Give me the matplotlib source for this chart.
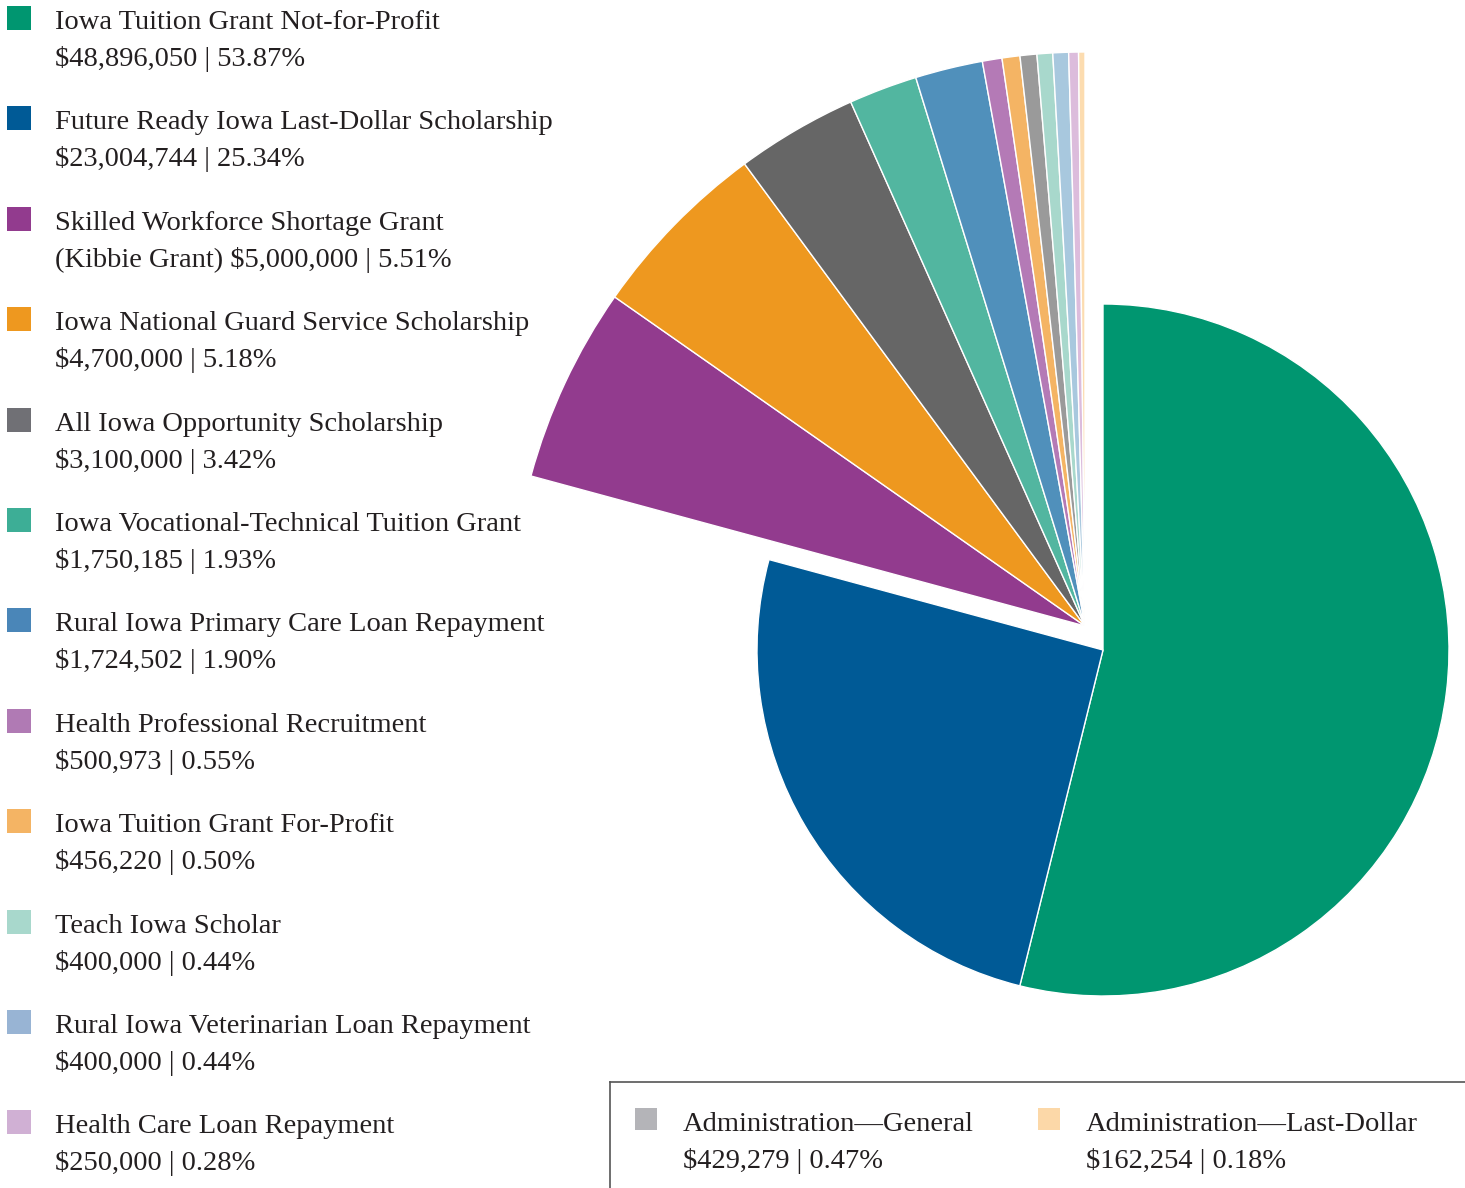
import matplotlib.pyplot as plt
from matplotlib.patches import Rectangle

# slices in pie order (clockwise from 12 o'clock)
names = [
    "Iowa Tuition Grant Not-for-Profit",
    "Future Ready Iowa Last-Dollar Scholarship",
    "Skilled Workforce Shortage Grant\n(Kibbie Grant)",
    "Iowa National Guard Service Scholarship",
    "All Iowa Opportunity Scholarship",
    "Iowa Vocational-Technical Tuition Grant",
    "Rural Iowa Primary Care Loan Repayment",
    "Health Professional Recruitment",
    "Iowa Tuition Grant For-Profit",
    "Administration\u2014General",
    "Teach Iowa Scholar",
    "Rural Iowa Veterinarian Loan Repayment",
    "Health Care Loan Repayment",
    "Administration\u2014Last-Dollar",
]
amounts = [48896050, 23004744, 5000000, 4700000, 3100000, 1750185, 1724502,
           500973, 456220, 429279, 400000, 400000, 250000, 162254]
pcts = [53.87, 25.34, 5.51, 5.18, 3.42, 1.93, 1.90,
        0.55, 0.50, 0.47, 0.44, 0.44, 0.28, 0.18]
colors = ["#009670", "#005A96", "#923B8E", "#EE981F", "#666666", "#52B6A0",
          "#5090BB", "#B47AB6", "#F4B464", "#9A9A9A", "#A8D8CC", "#A8C8DE",
          "#DCBCDC", "#FCDCB0"]
legend_colors = ["#009670", "#005A96", "#923B8E", "#EE981F", "#707075", "#3DAE96",
                 "#4A86B8", "#B07AB4", "#F4B464", "#B4B4B8", "#A8D8CC", "#98B4D4",
                 "#D0B0D4", "#FCD8A8"]

W, H = 1465, 1188
txt_color = "#231F20"
font = "Liberation Serif"
fs = 20.5

fig = plt.figure(figsize=(W / 100, H / 100), dpi=100)
ax = fig.add_axes([0, 0, 1, 1])

wedges, _ = ax.pie(amounts, colors=colors, startangle=90, counterclock=False,
                   radius=574, center=(1085, H - 626),
                   wedgeprops=dict(edgecolor="white", linewidth=1.0))
# the two largest slices sit pulled out with a smaller radius
for w in wedges[:2]:
    w.set_radius(346)
    w.set_center((1103, H - 650))

ax.set_xlim(0, W)
ax.set_ylim(0, H)
ax.set_aspect("auto")
ax.axis("off")


def two_lines(i):
    money = f"${amounts[i]:,} | {pcts[i]:.2f}%"
    if "\n" in names[i]:
        a, b = names[i].split("\n")
        return a, b + " " + money
    return names[i], money


# left legend
row = 0
for i in range(len(names)):
    if names[i].startswith("Administration"):
        continue
    y0 = 29 + row * 100.4
    ax.add_patch(Rectangle((7, H - y0 - 1), 24, 24, color=legend_colors[i], lw=0))
    l1, l2 = two_lines(i)
    ax.text(55, H - y0, l1, fontsize=fs, family=font, color=txt_color, va="baseline")
    ax.text(55, H - y0 - 37, l2, fontsize=fs, family=font, color=txt_color, va="baseline")
    row += 1

# bottom-right box for administration
ax.plot([610, W], [H - 1082, H - 1082], color="#555555", lw=1.2)
ax.plot([610, 610], [H - 1082, 0], color="#555555", lw=1.2)
admin = [i for i in range(len(names)) if names[i].startswith("Administration")]
for k, i in enumerate(admin):
    x0 = 635 + k * 403
    ax.add_patch(Rectangle((x0, H - 1130), 22, 22, color=legend_colors[i], lw=0))
    l1, l2 = two_lines(i)
    ax.text(x0 + 48, H - 1131, l1, fontsize=fs, family=font, color=txt_color, va="baseline")
    ax.text(x0 + 48, H - 1168, l2, fontsize=fs, family=font, color=txt_color, va="baseline")

fig.savefig("out.png", dpi=100)
